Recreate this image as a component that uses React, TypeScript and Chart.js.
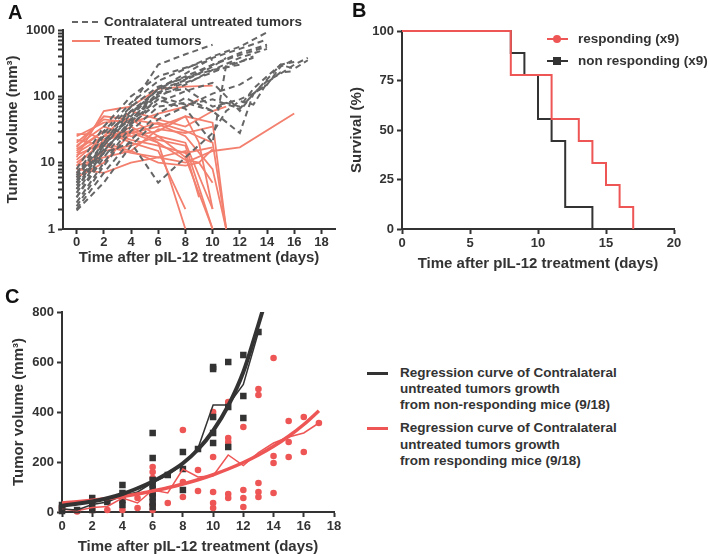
import React, { useEffect, useRef } from 'react';
import { Chart, registerables } from 'chart.js';

Chart.register(...registerables);

type Pt = [number, number];

const FONT = "'Liberation Sans', Arial, Helvetica, sans-serif";
const TEXT = '#333333';
const AXIS = '#333333';
const GRAY = '#666666';
const SALMON = '#F3806F';
const RED = '#EE5555';
const BLACK = '#333333';

// ---------- Panel A ----------
const xTicksA = [0, 2, 4, 6, 8, 10, 12, 14, 16, 18];
const yLabelsA = [1, 10, 100, 1000];

const untreatedA: Pt[][] = [
  [[0, 5], [2, 20], [4, 70], [6, 300], [8, 430], [10, 600]],
  [[0, 6], [1, 12], [2, 30], [4, 80], [6, 170], [8, 260], [10, 400], [12, 560], [14, 920]],
  [[0, 4], [2, 18], [4, 50], [6, 130], [8, 220], [10, 380], [12, 520], [14, 720]],
  [[0, 3], [2, 12], [4, 40], [6, 110], [8, 180], [10, 300], [12, 450], [14, 600]],
  [[0, 7], [2, 25], [4, 60], [6, 125], [8, 175], [10, 280], [11, 380]],
  [[0, 2.5], [2, 10], [4, 35], [6, 100], [8, 150], [10, 250], [12, 380], [14, 520]],
  [[0, 5.5], [1, 9], [2, 22], [4, 45], [6, 115], [8, 160], [10, 230], [12, 330], [13, 400]],
  [[0, 8], [2, 35], [4, 100], [6, 200], [8, 270], [10, 360]],
  [[0, 3.5], [2, 15], [4, 42], [6, 90], [8, 65], [10, 20], [11, 300], [12, 330], [13, 380]],
  [[0, 2], [2, 7], [4, 22], [6, 55], [8, 95], [10, 60], [12, 28], [13, 110], [14, 150], [15, 280], [16, 360]],
  [[0, 2.2], [2, 9], [4, 30], [6, 70], [8, 80], [10, 60], [11, 80], [12, 70], [13, 130], [14, 200], [15, 300], [16, 260], [17, 350]],
  [[0, 4], [1, 8], [2, 14], [4, 20], [6, 5], [8, 12], [10, 28], [11, 60], [12, 85], [13, 75], [14, 160], [15, 230], [16, 240]],
  [[0, 6], [2, 20], [4, 60], [6, 100], [8, 75], [10, 90], [12, 65], [14, 180], [15, 300], [16, 330]],
  [[0, 3], [2, 14], [4, 45], [6, 110], [8, 130], [10, 70], [12, 90], [13, 110], [14, 170], [15, 220], [16, 300], [17, 380]],
  [[0, 5], [2, 18], [4, 55], [6, 130], [8, 200], [10, 300], [12, 420], [14, 560]],
  [[0, 4.5], [2, 16], [4, 38], [6, 80], [8, 120], [10, 160], [11, 100], [12, 60], [13, 110], [14, 150]],
  [[0, 1.9], [2, 5], [4, 18], [6, 45], [8, 70], [10, 110], [12, 150], [13, 200]],
  [[0, 6.5], [2, 28], [4, 70], [6, 140], [8, 190], [10, 250], [12, 300]],
];

const treatedA: Pt[][] = [
  [[0, 12], [2, 60], [3, 65], [4, 70], [6, 130], [8, 140], [10, 145]],
  [[0, 27], [1, 27], [2, 22], [4, 30], [6, 40], [8, 30], [10, 20], [11, 1]],
  [[0, 25], [2, 40], [4, 45], [6, 25], [8, 12], [10, 1]],
  [[0, 18], [2, 35], [4, 25], [6, 30], [8, 50], [10, 40], [11, 1]],
  [[0, 15], [2, 30], [4, 20], [6, 15], [8, 2]],
  [[0, 10], [2, 20], [4, 35], [6, 20], [8, 1]],
  [[0, 8], [2, 7], [4, 10], [6, 12], [8, 10], [10, 15], [12, 17], [16, 55]],
  [[0, 20], [2, 45], [4, 40], [6, 55], [8, 70], [9, 90]],
  [[0, 14], [2, 25], [4, 60], [6, 45], [8, 35], [10, 60], [11, 70]],
  [[0, 7], [2, 15], [4, 18], [6, 25], [8, 20], [10, 2]],
  [[0, 9], [2, 12], [4, 15], [6, 10], [8, 9], [9, 10], [10, 16]],
  [[0, 16], [2, 30], [4, 22], [6, 18], [8, 14], [10, 17]],
  [[0, 22], [2, 18], [4, 14], [6, 12], [8, 15], [9, 3]],
  [[0, 6], [2, 10], [4, 28], [6, 35], [8, 50], [9, 20], [10, 2]],
  [[0, 11], [2, 25], [4, 30], [6, 22], [8, 18], [10, 1]],
  [[0, 13], [2, 20], [4, 15], [6, 32], [8, 28], [10, 35]],
  [[0, 17], [2, 50], [4, 45], [6, 38], [8, 25], [10, 8], [11, 1]],
  [[0, 9], [2, 22], [4, 28], [6, 20], [8, 11], [9, 10], [10, 5]],
];

// ---------- Panel B ----------
const xTicksB = [0, 5, 10, 15, 20];
const yTicksB = [0, 25, 50, 75, 100];
const respondingDays = [0, 8, 11, 13, 14, 15, 16, 17];
const respondingSurv = [100, 77.78, 55.56, 44.44, 33.33, 22.22, 11.11, 0];
const nonRespondingDays = [0, 8, 9, 10, 11, 12, 14];
const nonRespondingSurv = [100, 88.89, 77.78, 55.56, 44.44, 11.11, 0];

// ---------- Panel C ----------
const xTicksC = [0, 2, 4, 6, 8, 10, 12, 14, 16, 18];
const yTicksC = [0, 200, 400, 600, 800];

const nrDays = [0, 0, 0, 1, 2, 2, 2, 3, 4, 4, 4, 4, 6, 6, 6, 6, 6, 6, 6, 6, 6, 7, 8, 8, 8, 9, 10, 10, 10, 10, 10, 11, 11, 11, 12, 12, 12, 13];
const nrVols = [4, 16, 28, 8, 56, 28, 8, 40, 108, 76, 48, 28, 316, 216, 128, 110, 92, 76, 60, 40, 20, 148, 240, 172, 88, 252, 580, 572, 380, 316, 276, 600, 420, 260, 628, 464, 376, 720];

const rDays = [0, 0, 1, 2, 3, 4, 4, 5, 5, 6, 6, 6, 6, 6, 6, 7, 8, 8, 8, 9, 9, 10, 10, 10, 10, 10, 11, 11, 11, 11, 11, 12, 12, 12, 12, 13, 13, 13, 13, 13, 14, 14, 14, 14, 15, 15, 15, 16, 16, 17];
const rVols = [8, 20, 2, 8, 8, 8, 68, 56, 16, 180, 160, 136, 68, 28, 8, 36, 328, 120, 60, 168, 84, 400, 220, 80, 36, 16, 440, 296, 280, 72, 56, 340, 88, 56, 20, 492, 468, 116, 80, 60, 616, 224, 196, 76, 364, 280, 220, 380, 240, 356];

const nrMeanDays = [0, 1, 2, 3, 4, 5, 6, 7, 8, 9, 10, 11, 12, 13];
const nrMeanVols = [12, 8, 30, 40, 65, 80, 118, 148, 190, 255, 428, 428, 510, 720];
const rMeanDays = [0, 1, 2, 3, 4, 5, 6, 7, 8, 9, 10, 11, 12, 13, 14, 15, 16, 17];
const rMeanVols = [12, 5, 18, 22, 56, 36, 88, 76, 172, 140, 145, 228, 186, 238, 276, 300, 316, 356];

const nrFitDays = [0, 1, 2, 3, 4, 5, 6, 7, 8, 9, 10, 11, 12, 13, 13.4];
const nrFitVols = [25, 33, 42, 55, 72, 95, 122, 155, 195, 250, 325, 425, 560, 750, 830];
const rFitDays = [0, 1, 2, 3, 4, 5, 6, 7, 8, 9, 10, 11, 12, 13, 14, 15, 16, 17];
const rFitVols = [36, 41, 47, 54, 62, 72, 84, 97, 112, 129, 149, 172, 198, 228, 263, 303, 350, 405];

// ---------- helpers ----------
const tickFont = { family: FONT, size: 13, weight: 'bold' as const };
const titleFont = { family: FONT, size: 15, weight: 'bold' as const };

function axis(extra: any) {
  return {
    grid: { drawOnChartArea: false, drawTicks: true, tickLength: 5, tickWidth: 2, tickColor: AXIS },
    border: { display: true, color: AXIS, width: 2 },
    ...extra,
    ticks: { color: TEXT, font: tickFont, autoSkip: false, maxRotation: 0, ...(extra.ticks || {}) },
  };
}

const zip = (xs: number[], ys: number[]) => xs.map((x, i) => ({ x, y: ys[i] }));
const fromPairs = (p: Pt[]) => p.map(([x, y]) => ({ x, y }));

function baseOptions(pad: { top: number; right: number }) {
  return {
    responsive: false,
    animation: false as const,
    devicePixelRatio: 1,
    layout: { autoPadding: false, padding: { top: pad.top, right: pad.right, left: 0, bottom: 0 } },
    plugins: { legend: { display: false }, tooltip: { enabled: false } },
    elements: { point: { radius: 0 } },
  };
}

function buildA(): any {
  const logTicks: number[] = [];
  for (let d = 1; d < 1000; d *= 10) for (let m = 1; m < 10; m++) logTicks.push(m * d);
  logTicks.push(1000);
  const datasets: any[] = [
    ...untreatedA.map((s) => ({
      data: fromPairs(s), borderColor: GRAY, borderWidth: 2, borderDash: [6, 4], pointRadius: 0, tension: 0, clip: 3,
    })),
    ...treatedA.map((s) => ({
      data: fromPairs(s), borderColor: SALMON, borderWidth: 1.8, pointRadius: 0, tension: 0, clip: 3,
    })),
  ];
  return {
    type: 'line',
    data: { datasets },
    options: {
      ...baseOptions({ top: 30, right: 10 }),
      scales: {
        x: axis({
          type: 'linear', min: -1, max: 19,
          afterBuildTicks: (s: any) => { s.ticks = xTicksA.map((v) => ({ value: v })); },
          afterFit: (s: any) => { s.height = 51; },
          ticks: { padding: 1 },
          title: { display: true, text: 'Time after pIL-12 treatment (days)', color: TEXT, font: titleFont, padding: { top: 0, bottom: 13 } },
        }),
        y: axis({
          type: 'logarithmic', min: 1, max: 1000,
          afterBuildTicks: (s: any) => { s.ticks = logTicks.map((v) => ({ value: v })); },
          afterFit: (s: any) => { s.width = 63; },
          ticks: { padding: 3, callback: (v: any) => (yLabelsA.includes(Number(v)) ? String(v) : '') },
          title: { display: true, text: 'Tumor volume (mm³)', color: TEXT, font: titleFont, padding: { top: 3.5, bottom: 0 } },
        }),
      },
    },
  };
}

function buildB(): any {
  return {
    type: 'line',
    data: {
      datasets: [
        { data: zip(respondingDays, respondingSurv), borderColor: RED, borderWidth: 2, stepped: true, pointRadius: 0, clip: 3 },
        { data: zip(nonRespondingDays, nonRespondingSurv), borderColor: BLACK, borderWidth: 2, stepped: true, pointRadius: 0, clip: 3 },
      ],
    },
    options: {
      ...baseOptions({ top: 31, right: 35 }),
      scales: {
        x: axis({
          type: 'linear', min: 0, max: 20,
          afterBuildTicks: (s: any) => { s.ticks = xTicksB.map((v) => ({ value: v })); },
          afterFit: (s: any) => { s.height = 51; },
          ticks: { padding: 2 },
          title: { display: true, text: 'Time after pIL-12 treatment (days)', color: TEXT, font: titleFont, padding: { top: 0, bottom: 7 } },
        }),
        y: axis({
          type: 'linear', min: 0, max: 100,
          afterBuildTicks: (s: any) => { s.ticks = yTicksB.map((v) => ({ value: v })); },
          afterFit: (s: any) => { s.width = 57; },
          ticks: { padding: 3 },
          title: { display: true, text: 'Survival (%)', color: TEXT, font: titleFont, padding: { top: 3, bottom: 0 } },
        }),
      },
    },
  };
}

function buildC(): any {
  return {
    type: 'line',
    data: {
      datasets: [
        { data: zip(nrFitDays, nrFitVols), borderColor: BLACK, borderWidth: 4, pointRadius: 0, cubicInterpolationMode: 'monotone' },
        { data: zip(rFitDays, rFitVols), borderColor: RED, borderWidth: 3.5, pointRadius: 0, cubicInterpolationMode: 'monotone' },
        { data: zip(nrMeanDays, nrMeanVols), borderColor: BLACK, borderWidth: 1.5, pointRadius: 0, tension: 0 },
        { data: zip(rMeanDays, rMeanVols), borderColor: RED, borderWidth: 1.5, pointRadius: 0, tension: 0 },
        { data: zip(nrDays, nrVols), showLine: false, pointStyle: 'rect', pointRadius: 4.6, backgroundColor: BLACK, borderColor: BLACK, borderWidth: 0, clip: false },
        { data: zip(rDays, rVols), showLine: false, pointStyle: 'circle', pointRadius: 3.3, backgroundColor: RED, borderColor: RED, borderWidth: 0, clip: false },
      ],
    },
    options: {
      ...baseOptions({ top: 22, right: 26 }),
      scales: {
        x: axis({
          type: 'linear', min: 0, max: 18,
          afterBuildTicks: (s: any) => { s.ticks = xTicksC.map((v) => ({ value: v })); },
          afterFit: (s: any) => { s.height = 44; },
          ticks: { padding: 2 },
          title: { display: true, text: 'Time after pIL-12 treatment (days)', color: TEXT, font: titleFont, padding: { top: 0, bottom: 0 } },
        }),
        y: axis({
          type: 'linear', min: 0, max: 800,
          afterBuildTicks: (s: any) => { s.ticks = yTicksC.map((v) => ({ value: v })); },
          afterFit: (s: any) => { s.width = 62; },
          ticks: { padding: 3 },
          title: { display: true, text: 'Tumor volume (mm³)', color: TEXT, font: titleFont, padding: { top: 10, bottom: 0 } },
        }),
      },
    },
  };
}

function Panel(props: { left: number; top: number; width: number; height: number; build: () => any }) {
  const ref = useRef<HTMLCanvasElement>(null);
  useEffect(() => {
    const chart = new Chart(ref.current as HTMLCanvasElement, props.build());
    return () => chart.destroy();
  }, []);
  return (
    <canvas
      ref={ref}
      width={props.width}
      height={props.height}
      style={{ position: 'absolute', left: props.left, top: props.top, width: props.width, height: props.height }}
    />
  );
}

const txt: React.CSSProperties = {
  position: 'absolute', fontFamily: FONT, fontWeight: 'bold', fontSize: 13.5, lineHeight: '16px', color: TEXT, whiteSpace: 'nowrap',
};
const letter: React.CSSProperties = {
  position: 'absolute', fontFamily: FONT, fontWeight: 'bold', fontSize: 20, lineHeight: '20px', color: '#111', 
};

function Line(p: { x: number; y: number; w: number; color: string; t: number }) {
  return <div style={{ position: 'absolute', left: p.x, top: p.y - p.t / 2, width: p.w, height: p.t, background: p.color }} />;
}

export default function App() {
  return (
    <div style={{ position: 'absolute', left: 0, top: 0, width: 709, height: 556, background: '#fff', overflow: 'hidden' }}>
      <Panel left={0} top={0} width={345} height={280} build={buildA} />
      <Panel left={345} top={0} width={364} height={280} build={buildB} />
      <Panel left={0} top={290} width={360} height={266} build={buildC} />

      <div style={{ ...letter, left: 8, top: 2.4 }}>A</div>
      <div style={{ ...letter, left: 352, top: 0.4 }}>B</div>
      <div style={{ ...letter, left: 5, top: 286.4 }}>C</div>

      {/* Legend A */}
      <svg style={{ position: 'absolute', left: 72, top: 18 }} width={28} height={8}>
        <line x1={0} y1={4} x2={28} y2={4} stroke={GRAY} strokeWidth={2} strokeDasharray="6,4" />
      </svg>
      <div style={{ ...txt, left: 104, top: 14 }}>Contralateral untreated tumors</div>
      <Line x={72} y={41} w={28} color={SALMON} t={2} />
      <div style={{ ...txt, left: 104, top: 33 }}>Treated tumors</div>

      {/* Legend B */}
      <Line x={547} y={39} w={21} color={RED} t={2} />
      <div style={{ position: 'absolute', left: 553, top: 35, width: 8, height: 8, borderRadius: 4, background: RED }} />
      <div style={{ ...txt, left: 578, top: 31 }}>responding (x9)</div>
      <Line x={547} y={61} w={21} color={BLACK} t={2} />
      <div style={{ position: 'absolute', left: 553, top: 57, width: 8, height: 8, background: BLACK }} />
      <div style={{ ...txt, left: 578, top: 53 }}>non responding (x9)</div>

      {/* Legend C */}
      <Line x={367} y={373} w={21} color={BLACK} t={3} />
      <div style={{ ...txt, left: 400, top: 365 }}>Regression curve of Contralateral</div>
      <div style={{ ...txt, left: 400, top: 381 }}>untreated tumors growth</div>
      <div style={{ ...txt, left: 400, top: 397 }}>from non-responding mice (9/18)</div>
      <Line x={367} y={428} w={21} color={RED} t={3} />
      <div style={{ ...txt, left: 400, top: 420 }}>Regression curve of Contralateral</div>
      <div style={{ ...txt, left: 400, top: 437 }}>untreated tumors growth</div>
      <div style={{ ...txt, left: 400, top: 453 }}>from responding mice (9/18)</div>
    </div>
  );
}
